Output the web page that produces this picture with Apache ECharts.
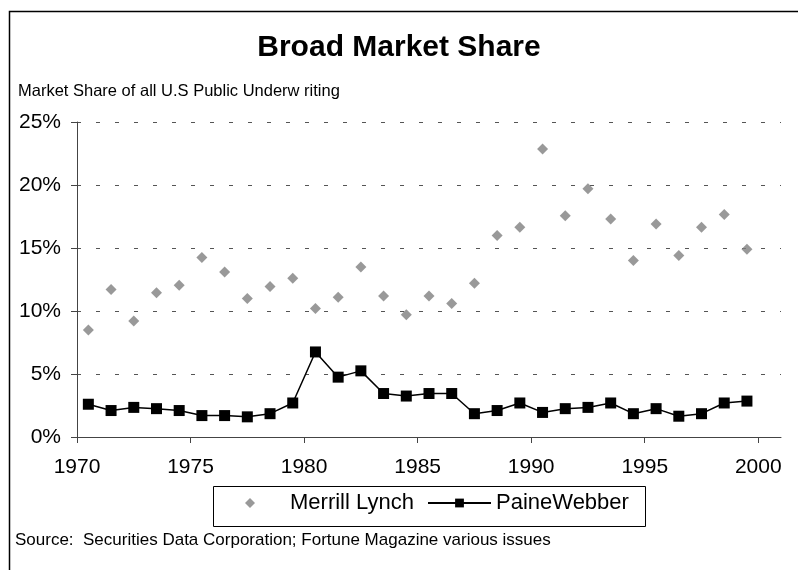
<!DOCTYPE html>
<html>
<head>
<meta charset="utf-8">
<script src="https://cdn.jsdelivr.net/npm/echarts@6/dist/echarts.min.js"></script>
<style>
  html, body { margin: 0; padding: 0; background: #fff; }
  #chart { width: 798px; height: 570px; }
</style>
</head>
<body>
<div id="chart"></div>
<script>
// one category per year, 2000 is an empty slot at the end of the axis
const years = [];
for (let y = 1970; y <= 2000; y++) years.push(String(y));

// market share in % (1970..1999)
const merrillLynch = [
  8.5, 11.7, 9.2, 11.45, 12.05, 14.25, 13.1, 11.0, 11.95, 12.6,
  10.2, 11.1, 13.5, 11.2, 9.7, 11.2, 10.6, 12.2, 16.0, 16.65,
  22.85, 17.55, 19.7, 17.3, 14.0, 16.9, 14.4, 16.65, 17.65, 14.9
];
const paineWebber = [
  2.6, 2.1, 2.35, 2.25, 2.1, 1.7, 1.7, 1.6, 1.85, 2.7,
  6.75, 4.75, 5.25, 3.45, 3.25, 3.45, 3.45, 1.85, 2.1, 2.7,
  1.95, 2.25, 2.35, 2.7, 1.85, 2.25, 1.65, 1.85, 2.7, 2.85
];

const font = 'Liberation Sans, Arial, sans-serif';
const chart = echarts.init(document.getElementById('chart'));

chart.setOption({
  animation: false,
  backgroundColor: '#fff',
  title: {
    text: 'Broad Market Share',
    left: 'center',
    top: 28,
    textStyle: { fontFamily: font, fontSize: 30, fontWeight: 'bold', color: '#000' }
  },
  graphic: [
    // outer frame, right and bottom edges run off the page
    { type: 'rect', left: 7, top: 9, shape: { width: 820, height: 600 },
      style: { fill: 'none', stroke: '#000', lineWidth: 1.5 }, silent: true },
    { type: 'text', left: 18, top: 83,
      style: { text: 'Market Share of all U.S Public Underw riting', font: '16.5px ' + font, fill: '#000' } },
    { type: 'text', left: 15, top: 532,
      style: { text: 'Source:  Securities Data Corporation; Fortune Magazine various issues', font: '17px ' + font, fill: '#000' } },
    // legend frame
    { type: 'rect', left: 211, top: 484, shape: { width: 432, height: 40 },
      style: { fill: 'none', stroke: '#000', lineWidth: 1 }, silent: true }
  ],
  legend: [
    {
      data: ['Merrill Lynch'],
      left: 245, top: 492, padding: 0,
      itemWidth: 10, itemHeight: 10,
      textStyle: { fontFamily: font, fontSize: 22, color: '#000', padding: [0, 0, 0, 30] }
    },
    {
      data: ['PaineWebber'],
      left: 427, top: 492, padding: 0,
      itemWidth: 63, itemHeight: 11,
      textStyle: { fontFamily: font, fontSize: 22, color: '#000' }
    }
  ],
  grid: { left: 77, right: 17, top: 122, bottom: 133 },
  xAxis: [
    {
      type: 'category',
      data: years,
      boundaryGap: true,
      show: false
    },
    {
      type: 'value',
      min: 1970, max: 2001, interval: 5,
      position: 'bottom',
      axisLine: { show: true, lineStyle: { color: '#444', width: 1 } },
      axisTick: { show: true, length: 6, lineStyle: { color: '#444' } },
      axisLabel: {
        showMaxLabel: false, margin: 20,
        fontFamily: font, fontSize: 21, color: '#000',
        formatter: v => String(v)
      },
      splitLine: { show: false }
    }
  ],
  yAxis: {
    type: 'value',
    min: 0, max: 25, interval: 5,
    axisLine: { show: true, lineStyle: { color: '#444', width: 1 } },
    axisTick: { show: true, length: 6, lineStyle: { color: '#444' } },
    axisLabel: { fontFamily: font, fontSize: 21, color: '#000', margin: 16, formatter: '{value}%' },
    splitLine: { show: true, lineStyle: { color: '#555', width: 1, type: [4, 15] } }
  },
  series: [
    {
      name: 'Merrill Lynch',
      type: 'scatter',
      xAxisIndex: 0,
      data: merrillLynch,
      symbol: 'diamond',
      symbolSize: 11,
      itemStyle: { color: '#808080' }
    },
    {
      name: 'PaineWebber',
      type: 'line',
      xAxisIndex: 0,
      data: paineWebber,
      symbol: 'rect',
      symbolSize: 11,
      showAllSymbol: true,
      itemStyle: { color: '#000' },
      lineStyle: { color: '#000', width: 1.5 }
    }
  ]
});
</script>
</body>
</html>
